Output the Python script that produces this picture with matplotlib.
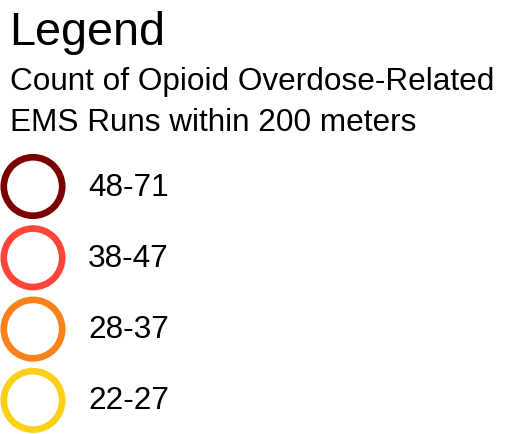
import matplotlib.pyplot as plt

plt.rcParams['font.family'] = ['Liberation Sans', 'DejaVu Sans']

title = "Legend"
subtitle_lines = ["Count of Opioid Overdose-Related", "EMS Runs within 200 meters"]
ranges = ["48-71", "38-47", "28-37", "22-27"]
colors = ["#7c0000", "#ff4539", "#f9821a", "#fbd017"]

fig = plt.figure(figsize=(5.1, 4.34), dpi=100)
ax = fig.add_axes([0, 0, 1, 1])
ax.set_xlim(0, 510)
ax.set_ylim(434, 0)
ax.axis("off")

ax.text(9, 45, title, fontsize=33.7, va="baseline", ha="left")
for i, line in enumerate(subtitle_lines):
    ax.text(10.5, 90 + i * 41, line, fontsize=22.7, va="baseline", ha="left")

ys = [186.5 + i * 71.3 for i in range(len(ranges))]
ax.scatter([33] * len(ranges), ys, s=1770, facecolors="none",
           edgecolors=colors, linewidths=4.8)
for y, lab in zip(ys, ranges):
    ax.text(88, y + 9, lab, fontsize=22.7, va="baseline", ha="left")

fig.savefig("out.png", dpi=100)
